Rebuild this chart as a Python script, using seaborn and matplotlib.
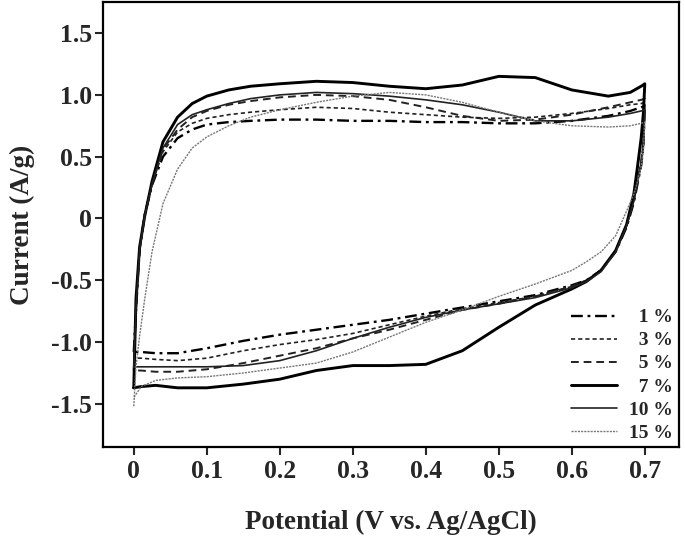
import matplotlib
matplotlib.use('Agg')
import matplotlib.pyplot as plt
import seaborn as sns
import numpy as np
import pandas as pd

# potential grids (V vs Ag/AgCl) for the anodic (up) and cathodic (down) sweeps
x_up = [0, 0.003, 0.008, 0.015, 0.025, 0.04, 0.06, 0.08, 0.1, 0.13, 0.16, 0.2,
        0.25, 0.3, 0.35, 0.4, 0.45, 0.5, 0.55, 0.6, 0.65, 0.68, 0.695, 0.7]
x_dn = [0.7, 0.698, 0.695, 0.69, 0.685, 0.675, 0.66, 0.64, 0.62, 0.6, 0.55, 0.5,
        0.45, 0.4, 0.35, 0.3, 0.25, 0.2, 0.15, 0.1, 0.06, 0.03, 0.01, 0]

samples = ['1 %', '3 %', '5 %', '7 %', '10 %', '15 %']

# current (A/g), anodic sweep
up_1 = [-1.08, -0.75, -0.25, 0.03, 0.27, 0.5, 0.65, 0.72, 0.76, 0.78, 0.79, 0.8,
        0.8, 0.79, 0.79, 0.78, 0.78, 0.77, 0.77, 0.79, 0.83, 0.87, 0.9, 0.91]
up_3 = [-1.13, -0.75, -0.25, 0.03, 0.28, 0.54, 0.7, 0.77, 0.81, 0.84, 0.86, 0.88,
        0.9, 0.89, 0.86, 0.84, 0.82, 0.81, 0.82, 0.85, 0.89, 0.92, 0.93, 0.94]
up_5 = [-1.23, -0.75, -0.25, 0.03, 0.28, 0.56, 0.72, 0.82, 0.87, 0.92, 0.95, 0.98,
        1.0, 0.99, 0.96, 0.9, 0.83, 0.79, 0.8, 0.84, 0.9, 0.94, 0.96, 0.97]
up_7 = [-1.37, -0.65, -0.23, 0.02, 0.3, 0.62, 0.82, 0.93, 0.99, 1.04, 1.07, 1.09,
        1.11, 1.1, 1.07, 1.05, 1.08, 1.15, 1.14, 1.04, 0.99, 1.02, 1.07, 1.09]
up_10 = [-1.2, -0.72, -0.25, 0.02, 0.28, 0.57, 0.76, 0.84, 0.88, 0.93, 0.97, 1.0,
         1.02, 1.01, 0.99, 0.96, 0.92, 0.86, 0.79, 0.79, 0.82, 0.85, 0.87, 0.88]
up_15 = [-1.52, -1.2, -0.95, -0.65, -0.27, 0.12, 0.4, 0.57, 0.66, 0.75, 0.82, 0.88,
         0.94, 0.99, 1.02, 1.0, 0.94, 0.86, 0.79, 0.75, 0.74, 0.75, 0.77, 0.78]

# current (A/g), cathodic sweep
dn_1 = [0.91, 0.58, 0.43, 0.28, 0.13, -0.07, -0.27, -0.42, -0.5, -0.54, -0.62, -0.67,
        -0.72, -0.77, -0.82, -0.86, -0.9, -0.94, -0.99, -1.05, -1.09, -1.09, -1.08, -1.08]
dn_3 = [0.94, 0.6, 0.45, 0.3, 0.15, -0.05, -0.26, -0.42, -0.5, -0.55, -0.63, -0.68,
        -0.73, -0.79, -0.86, -0.93, -0.98, -1.02, -1.07, -1.13, -1.15, -1.14, -1.13, -1.13]
dn_5 = [0.97, 0.62, 0.46, 0.3, 0.15, -0.05, -0.26, -0.42, -0.5, -0.55, -0.63, -0.69,
        -0.74, -0.82, -0.9, -0.97, -1.05, -1.11, -1.17, -1.22, -1.24, -1.24, -1.23, -1.23]
dn_7 = [1.09, 0.85, 0.65, 0.42, 0.2, -0.05, -0.26, -0.42, -0.51, -0.57, -0.7, -0.88,
        -1.07, -1.18, -1.19, -1.19, -1.23, -1.3, -1.34, -1.37, -1.37, -1.35, -1.36, -1.37]
dn_10 = [0.88, 0.58, 0.44, 0.29, 0.14, -0.06, -0.27, -0.43, -0.51, -0.56, -0.64, -0.69,
         -0.74, -0.8, -0.88, -0.97, -1.07, -1.15, -1.19, -1.2, -1.2, -1.2, -1.2, -1.2]
dn_15 = [0.78, 0.55, 0.42, 0.3, 0.2, 0.06, -0.14, -0.27, -0.35, -0.42, -0.53, -0.63,
         -0.74, -0.84, -0.96, -1.08, -1.17, -1.21, -1.25, -1.28, -1.29, -1.31, -1.36, -1.45]

ups = [up_1, up_3, up_5, up_7, up_10, up_15]
dns = [dn_1, dn_3, dn_5, dn_7, dn_10, dn_15]

x_ticks = [0, 0.1, 0.2, 0.3, 0.4, 0.5, 0.6, 0.7]
x_labels = ['0', '0.1', '0.2', '0.3', '0.4', '0.5', '0.6', '0.7']
y_ticks = [1.5, 1.0, 0.5, 0, -0.5, -1.0, -1.5]
y_labels = ['1.5', '1.0', '0.5', '0', '-0.5', '-1.0', '-1.5']


def build_frame():
    rows = []
    for name, up, dn in zip(samples, ups, dns):
        for xv, yv in zip(x_up + x_dn, up + dn):
            rows.append((name, xv, yv))
    return pd.DataFrame(rows, columns=['sample', 'potential', 'current'])


def main():
    sns.set_theme(style='ticks')
    plt.rcParams['font.family'] = ['Liberation Serif', 'DejaVu Serif']
    plt.rcParams['font.weight'] = 'bold'

    data = build_frame()
    fig = plt.figure(figsize=(6.85, 5.5), dpi=100)
    ax = fig.add_axes([0.150, 0.187, 0.841, 0.809])

    palette = {'1 %': 'black', '3 %': '#222222', '5 %': '#222222', '7 %': 'black',
               '10 %': '#222222', '15 %': '#777777'}
    dashes = {'1 %': (5, 2, 1.2, 2), '3 %': (2.5, 1.8), '5 %': (4, 2.5), '7 %': '',
              '10 %': '', '15 %': (1.5, 0.8)}
    sizes = {'1 %': 1.7, '3 %': 1.2, '5 %': 1.4, '7 %': 2.1, '10 %': 1.2, '15 %': 1.0}

    sns.lineplot(data=data, x='potential', y='current', hue='sample', style='sample',
                 size='sample', palette=palette, dashes=dashes, sizes=sizes,
                 hue_order=samples, style_order=samples, size_order=samples,
                 sort=False, estimator=None, ax=ax)

    ax.set_xlim(-0.0425, 0.7466)
    ax.set_ylim(-1.85, 1.75)
    ax.set_xticks(x_ticks)
    ax.set_xticklabels(x_labels)
    ax.set_yticks(y_ticks)
    ax.set_yticklabels(y_labels)
    ax.tick_params(direction='out', length=5.5, width=1.5, labelsize=18.5)
    ax.tick_params(axis='y', pad=2)
    ax.tick_params(axis='x', pad=4)
    for lab in ax.get_xticklabels() + ax.get_yticklabels():
        lab.set_fontweight('bold')
    for sp in ax.spines.values():
        sp.set_linewidth(1.6)
        sp.set_color('black')
        sp.set_visible(True)

    ax.set_xlabel('Potential (V vs. Ag/AgCl)', fontsize=19.5, fontweight='bold', labelpad=19)
    ax.set_ylabel('Current (A/g)', fontsize=19.5, fontweight='bold', labelpad=12)

    handles, labels = ax.get_legend_handles_labels()
    keep = [(h, l) for h, l in zip(handles, labels) if l in samples]
    hs = [k[0] for k in keep]
    ls = ['\u2007' * (4 - len(k[1])) + k[1] for k in keep]
    ax.legend(hs, ls, loc='lower right', bbox_to_anchor=(1.02, -0.027), frameon=False,
              handlelength=2.4, handletextpad=0.6, labelspacing=0.28,
              prop={'weight': 'bold', 'size': 14})

    fig.savefig('out.png', dpi=100)


if __name__ == '__main__':
    main()
